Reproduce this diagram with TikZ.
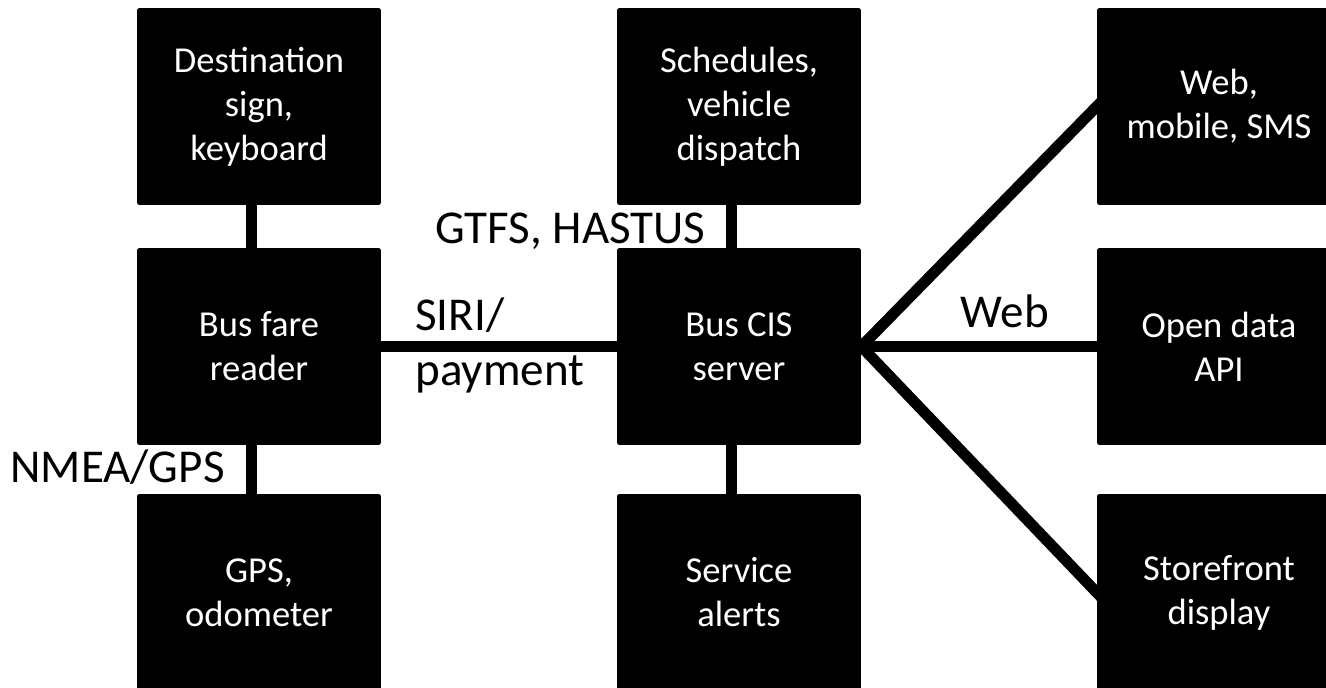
\documentclass[tikz,border=0pt]{standalone}
\usepackage{fontspec}
\setmainfont{Carlito}
\usetikzlibrary{backgrounds}

\tikzset{
  unit/.style={rectangle, fill=black, text=white, rounded corners=1pt,
    minimum width=4.88cm, minimum height=3.94cm, align=center,
    font=\fontsize{20.8}{25}\selectfont},
  link/.style={line width=0.22cm},
  tag/.style={inner sep=0pt, anchor=base west, font=\fontsize{26.8}{31.3}\selectfont}
}

\begin{document}
\begin{tikzpicture}[x=0.02cm, y=-0.02cm]
\clip (0,0) rectangle (1326,687);
% vehicle side
\node[unit] (dest) at (259,106.5) {Destination\\sign,\\keyboard};
\node[unit] (fare) at (259,346.5) {Bus fare\\reader};
\node[unit] (gps) at (259,592.5) {GPS,\\odometer};
% back office
\node[unit] (sched) at (739,106.5) {Schedules,\\vehicle\\dispatch};
\node[unit] (cis) at (739,346.5) {Bus CIS\\server};
\node[unit] (alerts) at (739,592.5) {Service\\alerts};
% outputs
\node[unit] (web) at (1219,106.5) {Web,\\mobile, SMS};
\node[unit] (api) at (1219,346.5) {Open data\\API};
\node[unit] (store) at (1219,592.5) {Storefront\\display};

\begin{scope}[on background layer]
\draw[link] ([xshift=-0.16cm]dest.center) -- ([xshift=-0.16cm]fare.center);
\draw[link] ([xshift=-0.16cm]fare.center) -- ([xshift=-0.16cm]gps.center);
\draw[link] ([xshift=-0.16cm]sched.center) -- ([xshift=-0.16cm]cis.center);
\draw[link] ([xshift=-0.16cm]cis.center) -- ([xshift=-0.16cm]alerts.center);
\draw[link] (fare.center) -- (cis.center);
\draw[link, shorten <=-0.2cm, shorten >=-0.2cm] (cis.east) -- (web.west);
\draw[link] (cis.center) -- (api.center);
\draw[link, shorten <=-0.2cm, shorten >=-0.2cm] (cis.east) -- (store.west);
\end{scope}

% link labels
\node[tag] (gtfs) at (435,243) {GTFS, HASTUS};
\node[tag, align=left] (siri) at (415,385) {SIRI/\\payment};
\node[tag] (weblbl) at (960,327) {Web};
\node[tag] (nmea) at (10,482) {NMEA/GPS};
\end{tikzpicture}
\end{document}
